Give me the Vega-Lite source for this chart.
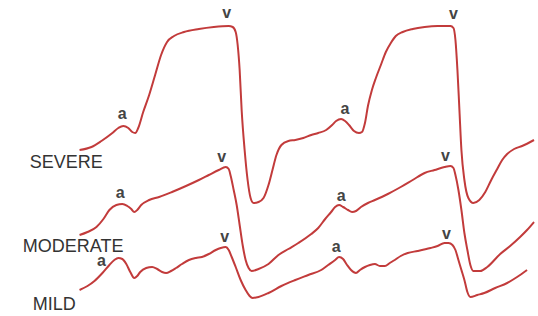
{
  "$schema": "https://vega.github.io/schema/vega-lite/v6.json",
  "width": 538,
  "height": 316,
  "autosize": {"type": "fit", "contains": "padding"},
  "padding": 0,
  "background": "white",
  "config": {"view": {"stroke": null}},
  "datasets": {
    "curves": [
      {"s":"severe","i":1,"x":80,"y":150},{"s":"severe","i":2,"x":92,"y":147},{"s":"severe","i":3,"x":102,"y":141},{"s":"severe","i":4,"x":113,"y":133},{"s":"severe","i":5,"x":119,"y":128},{"s":"severe","i":6,"x":124,"y":126},{"s":"severe","i":7,"x":129,"y":128},{"s":"severe","i":8,"x":133,"y":132},{"s":"severe","i":9,"x":136,"y":133},{"s":"severe","i":10,"x":139,"y":128},{"s":"severe","i":11,"x":144,"y":112},{"s":"severe","i":12,"x":150,"y":95},{"s":"severe","i":13,"x":156,"y":75},{"s":"severe","i":14,"x":162,"y":55},{"s":"severe","i":15,"x":168,"y":42},{"s":"severe","i":16,"x":175,"y":36},{"s":"severe","i":17,"x":185,"y":32},{"s":"severe","i":18,"x":200,"y":29},{"s":"severe","i":19,"x":215,"y":27},{"s":"severe","i":20,"x":230,"y":26},{"s":"severe","i":21,"x":234,"y":27},{"s":"severe","i":22,"x":237,"y":32},{"s":"severe","i":23,"x":239,"y":45},{"s":"severe","i":24,"x":241,"y":70},{"s":"severe","i":25,"x":243,"y":110},{"s":"severe","i":26,"x":246,"y":150},{"s":"severe","i":27,"x":249,"y":180},{"s":"severe","i":28,"x":252,"y":198},{"s":"severe","i":29,"x":255,"y":203},{"s":"severe","i":30,"x":260,"y":202},{"s":"severe","i":31,"x":265,"y":198},{"s":"severe","i":32,"x":270,"y":185},{"s":"severe","i":33,"x":274,"y":170},{"s":"severe","i":34,"x":278,"y":155},{"s":"severe","i":35,"x":283,"y":145},{"s":"severe","i":36,"x":290,"y":141},{"s":"severe","i":37,"x":297,"y":140},{"s":"severe","i":38,"x":305,"y":138},{"s":"severe","i":39,"x":313,"y":135},{"s":"severe","i":40,"x":320,"y":133},{"s":"severe","i":41,"x":328,"y":130},{"s":"severe","i":42,"x":334,"y":125},{"s":"severe","i":43,"x":338,"y":121},{"s":"severe","i":44,"x":343,"y":119},{"s":"severe","i":45,"x":347,"y":121},{"s":"severe","i":46,"x":351,"y":125},{"s":"severe","i":47,"x":356,"y":131},{"s":"severe","i":48,"x":361,"y":133},{"s":"severe","i":49,"x":364,"y":132},{"s":"severe","i":50,"x":367,"y":123},{"s":"severe","i":51,"x":370,"y":106},{"s":"severe","i":52,"x":374,"y":90},{"s":"severe","i":53,"x":378,"y":78},{"s":"severe","i":54,"x":383,"y":65},{"s":"severe","i":55,"x":388,"y":52},{"s":"severe","i":56,"x":393,"y":43},{"s":"severe","i":57,"x":398,"y":36},{"s":"severe","i":58,"x":405,"y":32},{"s":"severe","i":59,"x":415,"y":29},{"s":"severe","i":60,"x":427,"y":27},{"s":"severe","i":61,"x":440,"y":26},{"s":"severe","i":62,"x":453,"y":26},{"s":"severe","i":63,"x":456,"y":28},{"s":"severe","i":64,"x":458,"y":40},{"s":"severe","i":65,"x":460,"y":70},{"s":"severe","i":66,"x":462,"y":110},{"s":"severe","i":67,"x":464,"y":150},{"s":"severe","i":68,"x":467,"y":180},{"s":"severe","i":69,"x":471,"y":198},{"s":"severe","i":70,"x":476,"y":203},{"s":"severe","i":71,"x":482,"y":200},{"s":"severe","i":72,"x":488,"y":192},{"s":"severe","i":73,"x":494,"y":180},{"s":"severe","i":74,"x":500,"y":169},{"s":"severe","i":75,"x":505,"y":160},{"s":"severe","i":76,"x":510,"y":154},{"s":"severe","i":77,"x":517,"y":149},{"s":"severe","i":78,"x":525,"y":146},{"s":"severe","i":79,"x":537,"y":140},
      {"s":"moderate","i":1,"x":80,"y":235},{"s":"moderate","i":2,"x":88,"y":232},{"s":"moderate","i":3,"x":97,"y":227},{"s":"moderate","i":4,"x":104,"y":219},{"s":"moderate","i":5,"x":110,"y":210},{"s":"moderate","i":6,"x":117,"y":205},{"s":"moderate","i":7,"x":123,"y":204},{"s":"moderate","i":8,"x":128,"y":206},{"s":"moderate","i":9,"x":132,"y":209},{"s":"moderate","i":10,"x":135,"y":212},{"s":"moderate","i":11,"x":138,"y":210},{"s":"moderate","i":12,"x":142,"y":205},{"s":"moderate","i":13,"x":150,"y":200},{"s":"moderate","i":14,"x":160,"y":197},{"s":"moderate","i":15,"x":173,"y":192},{"s":"moderate","i":16,"x":187,"y":186},{"s":"moderate","i":17,"x":200,"y":180},{"s":"moderate","i":18,"x":210,"y":175},{"s":"moderate","i":19,"x":220,"y":170},{"s":"moderate","i":20,"x":227,"y":167},{"s":"moderate","i":21,"x":230,"y":169},{"s":"moderate","i":22,"x":232,"y":176},{"s":"moderate","i":23,"x":235,"y":190},{"s":"moderate","i":24,"x":238,"y":205},{"s":"moderate","i":25,"x":241,"y":225},{"s":"moderate","i":26,"x":244,"y":245},{"s":"moderate","i":27,"x":247,"y":260},{"s":"moderate","i":28,"x":250,"y":268},{"s":"moderate","i":29,"x":253,"y":271},{"s":"moderate","i":30,"x":260,"y":269},{"s":"moderate","i":31,"x":270,"y":264},{"s":"moderate","i":32,"x":280,"y":255},{"s":"moderate","i":33,"x":290,"y":249},{"s":"moderate","i":34,"x":300,"y":243},{"s":"moderate","i":35,"x":313,"y":234},{"s":"moderate","i":36,"x":320,"y":228},{"s":"moderate","i":37,"x":327,"y":219},{"s":"moderate","i":38,"x":333,"y":212},{"s":"moderate","i":39,"x":337,"y":207},{"s":"moderate","i":40,"x":341,"y":205},{"s":"moderate","i":41,"x":345,"y":207},{"s":"moderate","i":42,"x":350,"y":210},{"s":"moderate","i":43,"x":354,"y":212},{"s":"moderate","i":44,"x":358,"y":211},{"s":"moderate","i":45,"x":363,"y":207},{"s":"moderate","i":46,"x":370,"y":203},{"s":"moderate","i":47,"x":377,"y":200},{"s":"moderate","i":48,"x":390,"y":194},{"s":"moderate","i":49,"x":403,"y":187},{"s":"moderate","i":50,"x":415,"y":180},{"s":"moderate","i":51,"x":427,"y":173},{"s":"moderate","i":52,"x":437,"y":170},{"s":"moderate","i":53,"x":447,"y":167},{"s":"moderate","i":54,"x":453,"y":166},{"s":"moderate","i":55,"x":456,"y":168},{"s":"moderate","i":56,"x":458,"y":175},{"s":"moderate","i":57,"x":461,"y":190},{"s":"moderate","i":58,"x":464,"y":210},{"s":"moderate","i":59,"x":467,"y":233},{"s":"moderate","i":60,"x":470,"y":250},{"s":"moderate","i":61,"x":473,"y":265},{"s":"moderate","i":62,"x":476,"y":271},{"s":"moderate","i":63,"x":483,"y":271},{"s":"moderate","i":64,"x":490,"y":267},{"s":"moderate","i":65,"x":503,"y":254},{"s":"moderate","i":66,"x":513,"y":246},{"s":"moderate","i":67,"x":523,"y":237},{"s":"moderate","i":68,"x":530,"y":230},{"s":"moderate","i":69,"x":537,"y":222},
      {"s":"mild","i":1,"x":80,"y":290},{"s":"mild","i":2,"x":88,"y":286},{"s":"mild","i":3,"x":95,"y":281},{"s":"mild","i":4,"x":103,"y":273},{"s":"mild","i":5,"x":110,"y":265},{"s":"mild","i":6,"x":115,"y":260},{"s":"mild","i":7,"x":119,"y":258},{"s":"mild","i":8,"x":123,"y":259},{"s":"mild","i":9,"x":127,"y":264},{"s":"mild","i":10,"x":131,"y":272},{"s":"mild","i":11,"x":135,"y":278},{"s":"mild","i":12,"x":138,"y":276},{"s":"mild","i":13,"x":141,"y":272},{"s":"mild","i":14,"x":147,"y":268},{"s":"mild","i":15,"x":153,"y":267},{"s":"mild","i":16,"x":158,"y":269},{"s":"mild","i":17,"x":163,"y":272},{"s":"mild","i":18,"x":167,"y":273},{"s":"mild","i":19,"x":172,"y":271},{"s":"mild","i":20,"x":177,"y":268},{"s":"mild","i":21,"x":183,"y":264},{"s":"mild","i":22,"x":190,"y":260},{"s":"mild","i":23,"x":197,"y":258},{"s":"mild","i":24,"x":203,"y":257},{"s":"mild","i":25,"x":210,"y":254},{"s":"mild","i":26,"x":217,"y":250},{"s":"mild","i":27,"x":222,"y":248},{"s":"mild","i":28,"x":227,"y":247},{"s":"mild","i":29,"x":230,"y":250},{"s":"mild","i":30,"x":233,"y":257},{"s":"mild","i":31,"x":237,"y":267},{"s":"mild","i":32,"x":242,"y":280},{"s":"mild","i":33,"x":247,"y":290},{"s":"mild","i":34,"x":251,"y":296},{"s":"mild","i":35,"x":254,"y":298},{"s":"mild","i":36,"x":260,"y":297},{"s":"mild","i":37,"x":270,"y":293},{"s":"mild","i":38,"x":283,"y":286},{"s":"mild","i":39,"x":297,"y":280},{"s":"mild","i":40,"x":310,"y":275},{"s":"mild","i":41,"x":323,"y":270},{"s":"mild","i":42,"x":330,"y":265},{"s":"mild","i":43,"x":337,"y":260},{"s":"mild","i":44,"x":341,"y":257},{"s":"mild","i":45,"x":345,"y":259},{"s":"mild","i":46,"x":349,"y":265},{"s":"mild","i":47,"x":353,"y":270},{"s":"mild","i":48,"x":358,"y":273},{"s":"mild","i":49,"x":362,"y":270},{"s":"mild","i":50,"x":367,"y":267},{"s":"mild","i":51,"x":372,"y":265},{"s":"mild","i":52,"x":377,"y":264},{"s":"mild","i":53,"x":382,"y":266},{"s":"mild","i":54,"x":387,"y":266},{"s":"mild","i":55,"x":392,"y":263},{"s":"mild","i":56,"x":397,"y":260},{"s":"mild","i":57,"x":403,"y":256},{"s":"mild","i":58,"x":410,"y":253},{"s":"mild","i":59,"x":420,"y":251},{"s":"mild","i":60,"x":433,"y":248},{"s":"mild","i":61,"x":440,"y":246},{"s":"mild","i":62,"x":447,"y":243},{"s":"mild","i":63,"x":451,"y":243},{"s":"mild","i":64,"x":455,"y":245},{"s":"mild","i":65,"x":458,"y":250},{"s":"mild","i":66,"x":461,"y":260},{"s":"mild","i":67,"x":464,"y":270},{"s":"mild","i":68,"x":467,"y":280},{"s":"mild","i":69,"x":470,"y":292},{"s":"mild","i":70,"x":473,"y":297},{"s":"mild","i":71,"x":480,"y":295},{"s":"mild","i":72,"x":487,"y":293},{"s":"mild","i":73,"x":498,"y":288},{"s":"mild","i":74,"x":510,"y":283},{"s":"mild","i":75,"x":520,"y":277},{"s":"mild","i":76,"x":530,"y":270}
    ],
    "waves": [
      {"t":"a","x":123,"y":114},{"t":"a","x":347,"y":109},{"t":"v","x":228,"y":13},{"t":"v","x":456,"y":14},
      {"t":"a","x":121,"y":193},{"t":"a","x":343,"y":196},{"t":"v","x":223,"y":157},{"t":"v","x":448,"y":156},
      {"t":"a","x":102,"y":261},{"t":"a","x":338,"y":247},{"t":"v","x":226,"y":237},{"t":"v","x":449,"y":234}
    ],
    "names": [
      {"t":"SEVERE","x":30,"y":163},{"t":"MODERATE","x":23,"y":247},{"t":"MILD","x":33,"y":305}
    ]
  },
  "layer": [
    {
      "data": {"name": "curves"},
      "mark": {"type": "line", "color": "#c23b3b", "strokeWidth": 2, "interpolate": "monotone"},
      "encoding": {
        "x": {"field": "x", "type": "quantitative", "scale": {"domain": [0, 538], "nice": false, "zero": false}, "axis": null},
        "y": {"field": "y", "type": "quantitative", "scale": {"domain": [0, 316], "nice": false, "zero": false, "reverse": true}, "axis": null},
        "detail": {"field": "s"},
        "order": {"field": "i", "type": "quantitative"}
      }
    },
    {
      "data": {"name": "waves"},
      "mark": {"type": "text", "font": "Liberation Sans", "fontSize": 16, "fontWeight": "bold", "color": "#444444", "align": "center", "baseline": "middle"},
      "encoding": {
        "x": {"field": "x", "type": "quantitative"},
        "y": {"field": "y", "type": "quantitative"},
        "text": {"field": "t"}
      }
    },
    {
      "data": {"name": "names"},
      "mark": {"type": "text", "font": "Liberation Sans", "fontSize": 18, "color": "#333333", "align": "left", "baseline": "middle"},
      "encoding": {
        "x": {"field": "x", "type": "quantitative"},
        "y": {"field": "y", "type": "quantitative"},
        "text": {"field": "t"}
      }
    }
  ]
}
